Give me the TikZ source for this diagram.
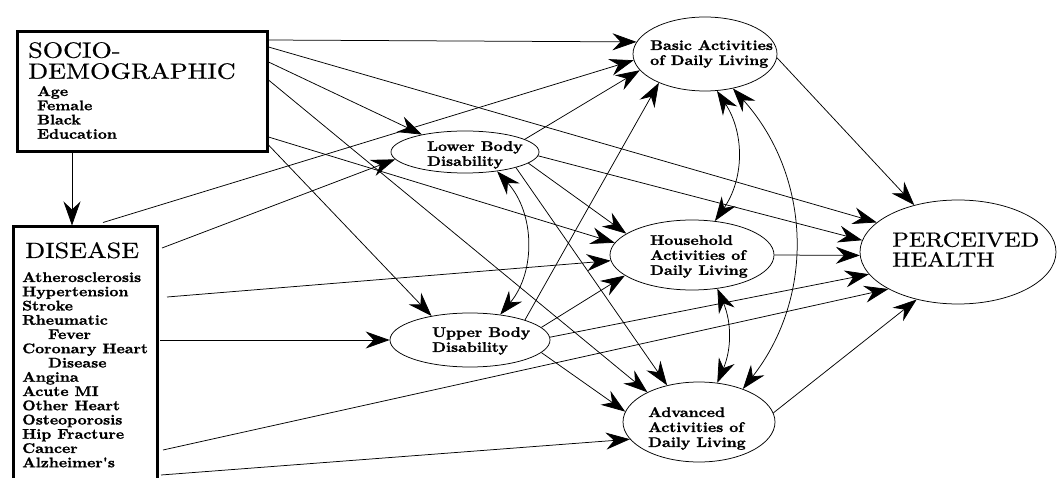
\documentclass[tikz,border=0pt]{standalone}
\usepackage{fontspec}
\usetikzlibrary{arrows.meta,calc,shapes.geometric}
% Latin Modern, stretched horizontally and thickened for the heavy book face
\newfontfamily\lmwide{lmroman10}[Extension=.otf, UprightFont=*-regular, BoldFont=*-bold, FakeStretch=1.19, FakeBold=0.6]
\newfontfamily\lmlabel{lmroman10}[Extension=.otf, UprightFont=*-regular, BoldFont=*-bold, FakeStretch=1.12, FakeBold=1.2]

\tikzset{
  bighead/.tip={Stealth[length=24pt,width=17pt,inset=8pt]},
  box/.style={draw, line width=3pt, inner sep=0pt},
  latent/.style={draw, ellipse, line width=0.75pt, inner sep=0pt},
  title/.style={anchor=north west, inner sep=0pt, align=left, font=\lmwide\fontsize{22}{21}\selectfont},
  items/.style={anchor=north west, inner sep=0pt, align=left, font=\lmlabel\bfseries\fontsize{14}{14.25}\selectfont},
  lbl/.style={anchor=north west, inner sep=0pt, align=left, font=\lmlabel\bfseries\fontsize{14}{15}\selectfont},
  bigtitle/.style={anchor=north west, inner sep=0pt, align=left, font=\lmwide\fontsize{20.5}{20}\selectfont},
  eff/.style={draw, line width=0.75pt, -bighead},
  cov/.style={draw, line width=0.75pt, bighead-bighead},
}

\begin{document}
\begin{tikzpicture}[x=1pt, y=-1pt]
\useasboundingbox (0,0) rectangle (1060,478);
\clip (0,0) rectangle (1060,478);
\fill[white] (0,0) rectangle (1060,478);

% observed blocks
\node[box, minimum width=250pt, minimum height=120pt] (socio) at (142,92) {};
\node[box, minimum width=144pt, minimum height=300pt] (disease) at (85,377) {};

\node[title] (sociotitle) at (28,42) {SOCIO-\\DEMOGRAPHIC};
\node[items] (sociolist) at (37,86) {Age\\Female\\Black\\Education};
\node[title] (diseasetitle) at (25,242) {DISEASE};
\node[items] (diseaselist) at (22,272) {Atherosclerosis\\Hypertension\\Stroke\\Rheumatic\\\hspace*{26pt}Fever\\Coronary Heart\\\hspace*{26pt}Disease\\Angina\\Acute MI\\Other Heart\\Osteoporosis\\Hip Fracture\\Cancer\\Alzheimer's};

% latent constructs
\node[latent, minimum width=144pt, minimum height=74pt] (basic) at (705,54) {};
\node[latent, minimum width=148pt, minimum height=42pt] (lower) at (465,152) {};
\node[latent, minimum width=160pt, minimum height=54pt] (upper) at (470,340) {};
\node[latent, minimum width=164pt, minimum height=70pt] (house) at (692,255) {};
\node[latent, minimum width=152pt, minimum height=80pt] (adv) at (699,422) {};
\node[latent, minimum width=196pt, minimum height=104pt] (ph) at (958,252) {};

\node[lbl] (basiclbl) at (650,40) {Basic Activities\\of Daily Living};
\node[lbl] (lowerlbl) at (427,141) {Lower Body\\Disability};
\node[lbl] (upperlbl) at (432,327) {Upper Body\\Disability};
\node[lbl] (houselbl) at (650,235) {Household\\Activities of\\Daily Living};
\node[lbl] (advlbl) at (648,407) {Advanced\\Activities of\\Daily Living};
\node[bigtitle] (phlbl) at (892,232) {PERCEIVED\\HEALTH};

% socio-demographic effects
\coordinate (drop) at (72,190);
\draw[eff] (socio.south -| drop) -- (disease.north -| drop);
\draw[eff] ($(socio.north east)+(0,9.5)$) -- (basic.170);
\draw[eff] ($(socio.north east)+(0,16.5)$) -- (ph.160);
\draw[eff] ($(socio.north east)+(0,31.5)$) -- (lower.158);
\draw[eff] ($(socio.north east)+(0,49.5)$) -- (adv.150);
\draw[eff] ($(socio.north east)+(0,106.5)$) -- (house.171);
\draw[eff] ($(socio.north east)+(0,114.5)$) -- (upper.148);

% disease effects
\draw[eff] ($(disease.north)+(18,-3)$) -- (basic.185);
\draw[eff] ($(disease.north east)+(3.5,22.5)$) -- (lower.186);
\draw[eff] ($(disease.north east)+(8.5,71.5)$) -- (house.184);
\draw[eff] ($(disease.north east)+(1.5,114.5)$) -- (upper.west);
\draw[eff] ($(disease.north east)+(4.5,224.5)$) -- (ph.208);
\draw[eff] ($(disease.north east)+(2.5,249.5)$) -- (adv.194);

% disability effects
\draw[eff] (lower.12) -- (basic.194);
\draw[eff] (lower.-3) -- (ph.173);
\draw[eff] (lower.-10) -- (house.162);
\draw[eff] (lower.-17) -- (adv.131);
\draw[eff] (upper.20) -- (basic.212);
\draw[eff] (upper.10) -- (house.197);
\draw[eff] (upper.2) -- (ph.194);
\draw[eff] (upper.-10) -- (adv.172);

% activities of daily living to perceived health
\draw[eff] (basic.-3) -- (ph.133);
\draw[eff] (house.east) -- (ph.182);
\draw[eff] (adv.7) -- (ph.229);

% correlations
\draw[cov] (lower.-31) to[bend left=41] (upper.40);
\draw[cov] (basic.288) to[bend left=34] (house.56);
\draw[cov] (house.-53) to[bend left=23] (adv.65);
\draw[cov] (basic.-51) to[bend left=40] (adv.37);
\end{tikzpicture}
\end{document}
